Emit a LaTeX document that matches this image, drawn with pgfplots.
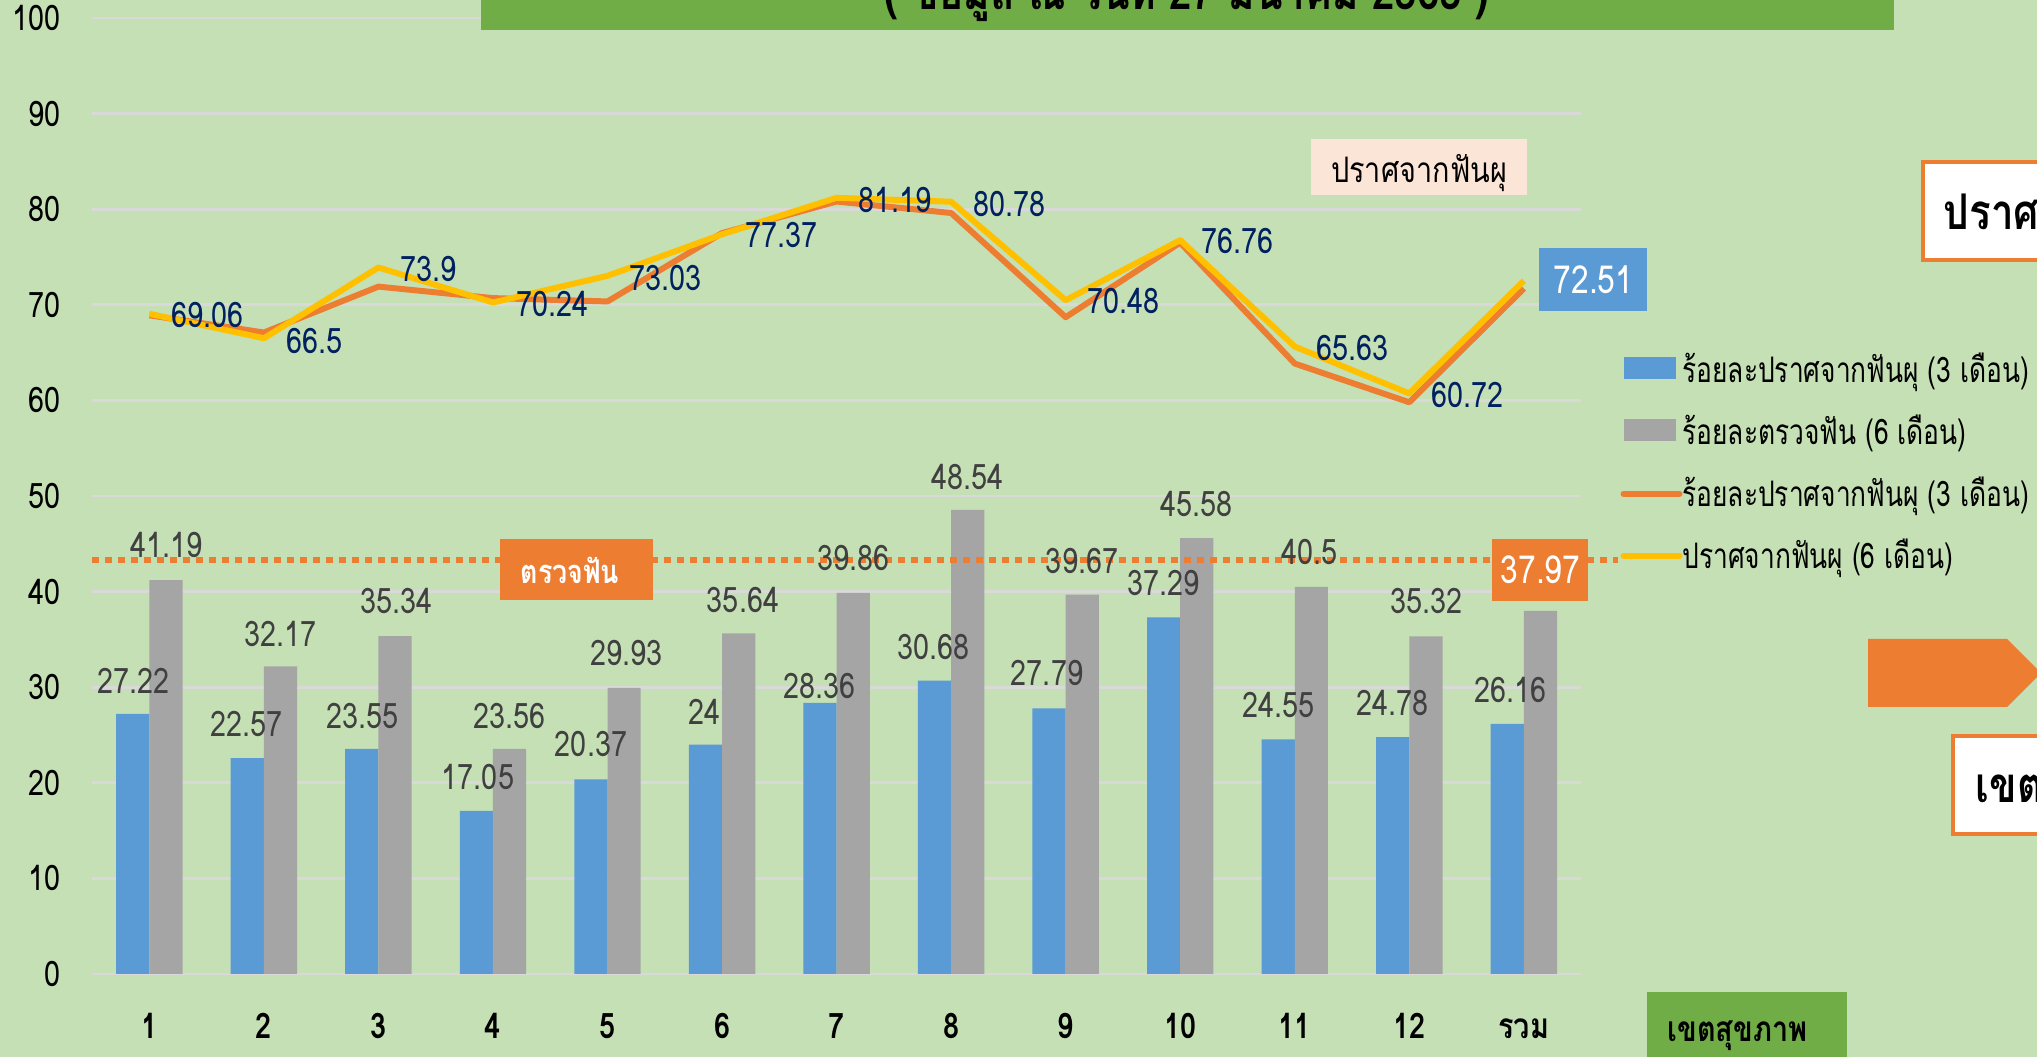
\documentclass[border=0pt]{standalone}
\usepackage{pgfplots}
\pgfplotsset{compat=1.18}
\usepackage{fontspec}
\setmainfont[Script=Thai, FakeStretch=0.82]{Loma}
\newfontfamily\legfont[Script=Thai, FakeStretch=0.75]{Loma}
\definecolor{bgcol}{HTML}{C5E0B4}
\definecolor{titlegreen}{HTML}{70AD47}
\definecolor{barblue}{HTML}{5B9BD5}
\definecolor{bargray}{HTML}{A5A5A5}
\definecolor{lineorange}{HTML}{ED7D31}
\definecolor{lineyellow}{HTML}{FFC000}
\definecolor{navy}{HTML}{002060}
\definecolor{peach}{HTML}{FBE5D6}
\definecolor{gridgray}{HTML}{D9D9D9}
\definecolor{labgray}{HTML}{404040}
\newcommand{\labfont}{\fontsize{10pt}{12pt}\selectfont}
\begin{document}
\begin{tikzpicture}[x=1cm,y=1cm]
\clip (0,0) rectangle (20.37,10.57);
\fill[bgcol] (0,0) rectangle (20.37,10.57);
\begin{axis}[
  at={(0.921cm,0.83cm)}, anchor=south west,
  scale only axis, width=14.89cm, height=9.56cm,
  xmin=-0.5, xmax=12.5, ymin=0, ymax=100,
  axis line style={draw=none},
  major tick length=0pt,
  ymajorgrids, grid style={gridgray, line width=0.8pt},
  xtick={0,...,12},
  xticklabels={1,2,3,4,5,6,7,8,9,10,11,12,รวม},
  ytick={0,10,...,100},
  /pgf/number format/assume math mode=true,
  yticklabel style={font=\labfont, text=black, anchor=east, inner sep=0pt, xshift=-0.31cm},
  xticklabel style={font=\labfont\bfseries, text=black, anchor=base, inner sep=0pt, yshift=-0.65cm},
  clip=false,
  legend style={at={(axis description cs:1.026,0.6506)}, anchor=north west, draw=none, fill=none,
     font=\legfont\labfont, inner sep=0pt, row sep=0.22cm,
     nodes={inner sep=0pt, text height=0.3cm, text depth=0.1cm}},
  legend cell align=left,
  /tikz/every even column/.append style={column sep=0.05cm},
]
\addplot[ybar, bar width=0.29, bar shift=-0.145, fill=barblue, draw=none,
  legend image code/.code={\fill[barblue] (0cm,-0.06cm) rectangle (0.52cm,0.16cm);}]
  coordinates {(0,27.22) (1,22.57) (2,23.55) (3,17.05) (4,20.37) (5,24) (6,28.36) (7,30.68) (8,27.79) (9,37.29) (10,24.55) (11,24.78) (12,26.16)};
\addlegendentry{ร้อยละปราศจากฟันผุ (3 เดือน)}
\addplot[ybar, bar width=0.29, bar shift=0.145, fill=bargray, draw=none,
  legend image code/.code={\fill[bargray] (0cm,-0.06cm) rectangle (0.52cm,0.16cm);}]
  coordinates {(0,41.19) (1,32.17) (2,35.34) (3,23.56) (4,29.93) (5,35.64) (6,39.86) (7,48.54) (8,39.67) (9,45.58) (10,40.5) (11,35.32) (12,37.97)};
\addlegendentry{ร้อยละตรวจฟัน (6 เดือน)}
\addplot[lineorange, line width=1.7pt, line join=round, mark=none,
  legend image code/.code={\draw[lineorange, line width=1.7pt, line cap=round] (0cm,0.03cm) -- (0.56cm,0.03cm);}]
  coordinates {(0,68.9) (1,67.1) (2,71.9) (3,70.7) (4,70.35) (5,77.5) (6,80.8) (7,79.6) (8,68.7) (9,76.5) (10,63.85) (11,59.8) (12,71.7)};
\addlegendentry{ร้อยละปราศจากฟันผุ (3 เดือน)}
\addplot[lineyellow, line width=1.7pt, line join=round, mark=none,
  legend image code/.code={\draw[lineyellow, line width=1.7pt, line cap=round] (0cm,0.03cm) -- (0.56cm,0.03cm);}]
  coordinates {(0,69.06) (1,66.5) (2,73.9) (3,70.24) (4,73.03) (5,77.37) (6,81.19) (7,80.78) (8,70.48) (9,76.76) (10,65.63) (11,60.72) (12,72.51)};
\addlegendentry{ปราศจากฟันผุ (6 เดือน)}
\addplot[forget plot, lineorange, line width=0.06cm, dash pattern=on 0.065cm off 0.065cm]
  coordinates {(-0.5,43.3) (12.82,43.3)};
% bar labels (blue series)
\begin{scope}[every node/.style={font=\labfont, text=labgray, inner sep=0pt}]
\node at (axis cs:-0.136,30.7) {27.22};
\node at (axis cs:0.851,26.2) {22.57};
\node at (axis cs:1.860,27.0) {23.55};
\node at (axis cs:2.869,20.65) {17.05};
\node at (axis cs:3.856,24.05) {20.37};
\node at (axis cs:4.843,27.45) {24};
\node at (axis cs:5.852,30.16) {28.36};
\node at (axis cs:6.850,34.24) {30.68};
\node at (axis cs:7.837,31.52) {27.79};
\node at (axis cs:8.858,40.9) {37.29};
\node at (axis cs:9.856,28.13) {24.55};
\node at (axis cs:10.854,28.4) {24.78};
\node at (axis cs:11.886,29.76) {26.16};
% gray series
\node at (axis cs:0.147,44.84) {41.19};
\node at (axis cs:1.146,35.6) {32.17};
\node at (axis cs:2.155,39.0) {35.34};
\node at (axis cs:3.142,27.04) {23.56};
\node at (axis cs:4.162,33.56) {29.93};
\node at (axis cs:5.183,39.13) {35.64};
\node at (axis cs:6.147,43.48) {39.86};
\node at (axis cs:7.145,52.04) {48.54};
\node at (axis cs:8.143,43.2) {39.67};
\node at (axis cs:9.141,49.18) {45.58};
\node at (axis cs:10.128,44.16) {40.5};
\node at (axis cs:11.149,39.0) {35.32};
\end{scope}
\begin{scope}[every node/.style={font=\labfont, text=navy, inner sep=0pt}]
\node at (axis cs:0.510,68.9) {69.06};
\node at (axis cs:1.440,66.17) {66.5};
\node at (axis cs:2.438,73.78) {73.9};
\node at (axis cs:3.516,70.1) {70.24};
\node at (axis cs:4.503,72.83) {73.03};
\node at (axis cs:5.523,77.3) {77.37};
\node at (axis cs:6.510,80.98) {81.19};
\node at (axis cs:7.508,80.57) {80.78};
\node at (axis cs:8.506,70.38) {70.48};
\node at (axis cs:9.504,76.63) {76.76};
\node at (axis cs:10.502,65.49) {65.63};
\node at (axis cs:11.512,60.6) {60.72};
\end{scope}
\node[fill=barblue, text=white, font=\fontsize{11pt}{13pt}\selectfont, minimum width=1.08cm, minimum height=0.63cm, inner sep=0pt] at (axis cs:12.608,72.65) {72.51};
\node[fill=lineorange, text=white, font=\fontsize{11pt}{13pt}\selectfont, minimum width=0.96cm, minimum height=0.62cm, inner sep=0pt] at (axis cs:12.145,42.26) {37.97};
\end{axis}
% title box (cut at top)
\fill[titlegreen] (4.81,10.27) rectangle (18.94,10.80);
\node[anchor=base, font=\fontsize{14pt}{16pt}\selectfont\bfseries, inner sep=0pt] at (11.87,10.47) {( ข้อมูล ณ วันที่ 27 มีนาคม 2565 )};
% annotation boxes
\fill[peach] (13.11,8.62) rectangle (15.27,9.18);
\node[anchor=base west, inner sep=0pt, font=\labfont] at (13.305,8.74) {ปราศจากฟันผุ};
\fill[lineorange] (5.00,4.565) rectangle (6.53,5.18);
\node[anchor=base west, text=white, inner sep=0pt, font=\fontsize{9.3pt}{11pt}\selectfont\bfseries] at (5.20,4.735) {ตรวจฟัน};
\draw[lineorange, line width=1.2pt, fill=white] (19.23,7.97) rectangle (20.6,8.95);
\node[anchor=base west, inner sep=0pt, font=\fontsize{14pt}{16pt}\selectfont\bfseries] at (19.43,8.27) {ปราศจากฟันผุ};
\fill[lineorange] (18.68,4.18) -- (20.07,4.18) -- (20.41,3.84) -- (20.07,3.50) -- (18.68,3.50) -- cycle;
\draw[lineorange, line width=1.2pt, fill=white] (19.53,2.23) rectangle (20.6,3.21);
\node[anchor=base west, inner sep=0pt, font=\fontsize{14pt}{16pt}\selectfont\bfseries] at (19.75,2.54) {เขตสุขภาพ};
\fill[titlegreen] (16.47,-0.1) rectangle (18.47,0.65);
\node[anchor=base west, inner sep=0pt, font=\labfont\bfseries] at (16.67,0.15) {เขตสุขภาพ};
\end{tikzpicture}
\end{document}
